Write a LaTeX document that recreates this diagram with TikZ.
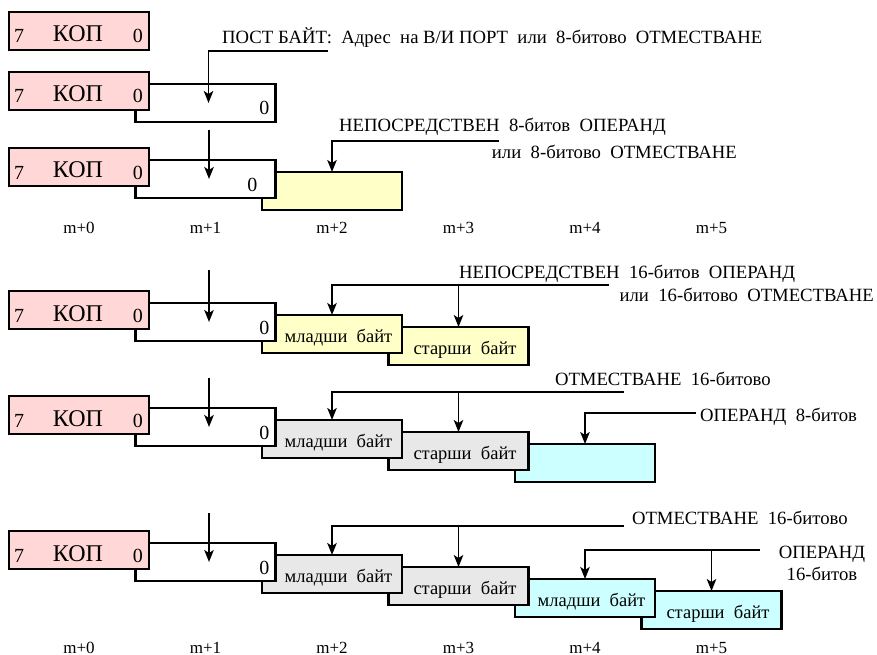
\documentclass[tikz,border=0pt]{standalone}
\usepackage{fontspec}
\setmainfont{Liberation Serif}
\usetikzlibrary{arrows.meta, calc}
\definecolor{kopR}{RGB}{255,215,215}
\definecolor{opY}{RGB}{255,255,200}
\definecolor{dispG}{RGB}{232,232,232}
\definecolor{opC}{RGB}{204,255,255}
\tikzset{
  byte/.style={draw, line width=2.5pt, minimum width=140pt, minimum height=38pt,
    inner sep=0pt, outer sep=0pt, anchor=north west},
  kop/.style={byte, fill=kopR},
  arr/.style={-{Stealth[length=12pt, width=9.5pt, inset=3pt]}, line width=1.6pt},
  ann/.style={font=\fontsize{18.7}{21}\selectfont, inner sep=0pt},
  btxt/.style={font=\fontsize{18.5}{20}\selectfont, inner sep=0pt, anchor=base},
  dig/.style={font=\fontsize{20}{22}\selectfont, inner sep=0pt},
  mlbl/.style={font=\fontsize{17}{19}\selectfont, inner sep=0pt, anchor=base}
}

\begin{document}
\begin{tikzpicture}[x=1pt, y=-1pt]
\useasboundingbox (0,0) rectangle (877,655);
% byte k of a row sits at (9+126.5k, top+12k); later bytes go underneath
\node[byte, fill=white] (r2b1) at (135.5,84) {};
\foreach \k/\fc in {2/opY, 1/white}
  \node[byte, fill=\fc] (r3b\k) at ({9+126.5*\k}, {148+12*\k}) {};
\foreach \k/\fc in {3/opY, 2/opY, 1/white}
  \node[byte, fill=\fc] (r4b\k) at ({9+126.5*\k}, {291+12*\k}) {};
\foreach \k/\fc in {4/opC, 3/dispG, 2/dispG, 1/white}
  \node[byte, fill=\fc] (r5b\k) at ({9+126.5*\k}, {396+12*\k}) {};
\foreach \k/\fc in {5/opC, 4/opC, 3/dispG, 2/dispG, 1/white}
  \node[byte, fill=\fc] (r6b\k) at ({9+126.5*\k}, {531+12*\k}) {};
% opcode bytes on top
\foreach \r/\t in {1/12, 2/72, 3/148, 4/291, 5/396, 6/531} {
  \node[kop] (kop\r) at (9,\t) {};
  \node[dig, anchor=base west] (kop\r-hi) at ($(kop\r.north west)+(5,31)$) {7};
  \node[font=\fontsize{24}{26}\selectfont, inner sep=0pt, anchor=base] (kop\r-t) at ($(kop\r.north)+(-1,30)$) {КОП};
  \node[dig, anchor=base east] (kop\r-lo) at ($(kop\r.north east)+(-6,31)$) {0};
}
% bit 0 of the second byte
\foreach \r/\dx in {2/6, 3/18, 4/6, 5/6, 6/6}
  \node[dig, anchor=base east] (r\r-z) at ($(r\r b1.north east)+(-\dx,31)$) {0};
% low / high byte texts
\foreach \n in {r4b2, r5b2, r6b2, r6b4}
  \node[btxt] (\n-t) at ($(\n.north)+(6.5,27)$) {младши~~байт};
\foreach \n in {r4b3, r5b3, r6b3, r6b5}
  \node[btxt] (\n-t) at ($(\n.north)+(6.5,27)$) {старши~~байт};

% row 1 -> row 2: post byte
\node[ann, anchor=base west] (t1) at (222,44) {ПОСТ БАЙТ:~~Адрес~~на В/И ПОРТ~~или~~8-битово~~ОТМЕСТВАНЕ};
\coordinate (t1e) at (328,51);
\draw[arr] (t1e) -| ($(r2b1.center)+(3,0)$);
% plain arrows into the post byte
\foreach \r/\t in {3/130, 4/270, 5/378, 6/513} {
  \coordinate (r\r in) at (209,\t);
  \draw[arr] (r\r in) -- (r\r in |- r\r b1.center);
}
% row 3
\node[ann, anchor=base west] (t3a) at (339,132) {НЕПОСРЕДСТВЕН~~8-битов~~ОПЕРАНД};
\node[ann, anchor=base east] (t3b) at (737,159) {или~~8-битово~~ОТМЕСТВАНЕ};
\coordinate (t3e) at (499,141);
\draw[arr] (t3e) -| (r3b2.north);
% row 4
\node[ann, anchor=base west] (t4a) at (459,278) {НЕПОСРЕДСТВЕН~~16-битов~~ОПЕРАНД};
\node[ann, anchor=base east] (t4b) at (874,301) {или~~16-битово~~ОТМЕСТВАНЕ};
\coordinate (t4e) at (609,285);
\draw[arr] (t4e) -| (r4b2.north);
\draw[arr] (t4e -| r4b3.north) -- (r4b3.north);
% row 5
\node[ann, anchor=base west] (t5a) at (555,385) {ОТМЕСТВАНЕ~~16-битово};
\coordinate (t5e) at (624,392);
\draw[arr] (t5e) -| (r5b2.north);
\draw[arr] (t5e -| r5b3.north) -- (r5b3.north);
\node[ann, anchor=base west] (t5b) at (700,421) {ОПЕРАНД~~8-битов};
\coordinate (t5f) at (696,413);
\draw[arr] (t5f) -| (r5b4.north);
% row 6
\node[ann, anchor=base west] (t6a) at (632,524) {ОТМЕСТВАНЕ~~16-битово};
\coordinate (t6e) at (624,526);
\draw[arr] (t6e) -| (r6b2.north);
\draw[arr] (t6e -| r6b3.north) -- (r6b3.north);
\node[ann, anchor=base] (t6b) at (822,558) {ОПЕРАНД};
\node[ann, anchor=base] (t6c) at (822,580) {16-битов};
\coordinate (t6f) at (760,550);
\draw[arr] (t6f) -| (r6b4.north);
\draw[arr] (t6f -| r6b5.north) -- (r6b5.north);

% memory addresses
\foreach \k in {0,...,5} {
  \node[mlbl] (ma\k) at ({79+126.5*\k}, 233) {m+\k};
  \node[mlbl] (mb\k) at ({79+126.5*\k}, 653) {m+\k};
}
\end{tikzpicture}
\end{document}
